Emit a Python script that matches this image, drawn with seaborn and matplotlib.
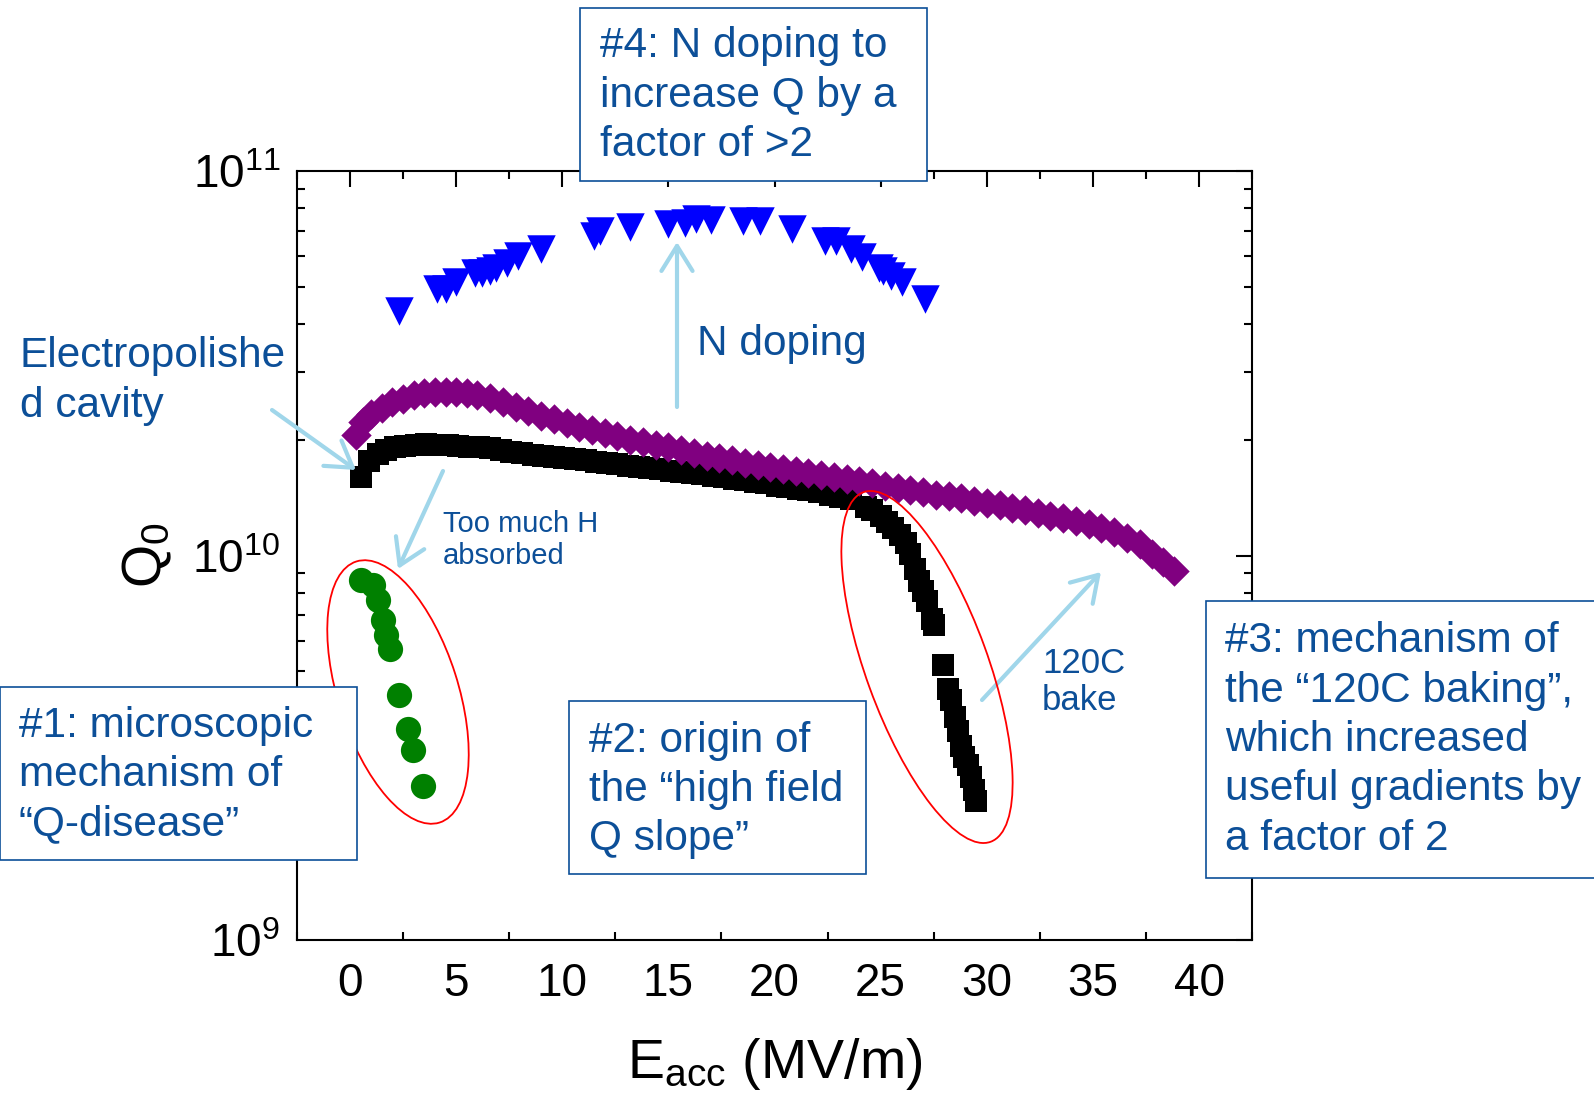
import numpy as np
import pandas as pd
import matplotlib
matplotlib.use("Agg")
import matplotlib.pyplot as plt
import seaborn as sns
from matplotlib.patches import Rectangle, Ellipse, FancyArrowPatch
from matplotlib.transforms import Affine2D

# ---- data (E_acc in MV/m, Q0) ----
nitrogen_x = [2.3, 4.1, 4.5, 5.0, 5.9, 6.2, 6.6, 6.9, 7.4, 7.9, 9.0, 11.5, 11.8,
              13.2, 15.0, 15.8, 16.3, 17.0, 18.5, 19.3, 20.8, 22.4, 22.9, 23.6,
              24.1, 24.9, 25.1, 25.5, 26.0, 27.1]
nitrogen_q = [4.33e10, 4.92e10, 4.92e10, 5.15e10, 5.44e10, 5.44e10, 5.50e10, 5.61e10,
              5.78e10, 6.02e10, 6.26e10, 6.76e10, 6.99e10, 7.13e10, 7.30e10, 7.31e10,
              7.49e10, 7.46e10, 7.42e10, 7.42e10, 7.08e10, 6.58e10, 6.56e10, 6.26e10,
              5.96e10, 5.61e10, 5.50e10, 5.33e10, 5.13e10, 4.64e10]

baked_x = [0.3, 0.6, 1.0, 1.5, 2.0, 2.5, 3.0, 3.5, 4.0, 4.5, 5.0, 5.5, 6.0, 6.6, 7.2,
           7.8, 8.4, 9.0, 9.6, 10.2, 10.8, 11.4, 12.0, 12.6, 13.2, 13.8, 14.4, 15.0,
           15.6, 16.2, 16.8, 17.4, 18.0, 18.6, 19.2, 19.8, 20.4, 21.0, 21.6, 22.2,
           22.8, 23.4, 24.0, 24.6, 25.2, 25.8, 26.4, 27.0, 27.6, 28.2, 28.8, 29.4,
           30.0, 30.6, 31.2, 31.8, 32.4, 33.0, 33.6, 34.2, 34.8, 35.4, 36.0, 36.6,
           37.2, 37.8, 38.3, 38.8]
baked_q = [2.06e10, 2.23e10, 2.33e10, 2.42e10, 2.50e10, 2.56e10, 2.61e10, 2.64e10,
           2.66e10, 2.66e10, 2.66e10, 2.64e10, 2.62e10, 2.57e10, 2.50e10, 2.43e10,
           2.37e10, 2.31e10, 2.26e10, 2.21e10, 2.16e10, 2.12e10, 2.08e10, 2.04e10,
           2.00e10, 1.97e10, 1.94e10, 1.91e10, 1.88e10, 1.85e10, 1.82e10, 1.79e10,
           1.77e10, 1.74e10, 1.72e10, 1.70e10, 1.68e10, 1.66e10, 1.64e10, 1.62e10,
           1.60e10, 1.58e10, 1.56e10, 1.54e10, 1.52e10, 1.50e10, 1.48e10, 1.46e10,
           1.44e10, 1.43e10, 1.41e10, 1.39e10, 1.37e10, 1.35e10, 1.33e10, 1.31e10,
           1.29e10, 1.27e10, 1.25e10, 1.23e10, 1.21e10, 1.18e10, 1.15e10, 1.11e10,
           1.07e10, 1.01e10, 0.96e10, 0.91e10]

ep_x = [0.5, 0.9, 1.3, 1.7, 2.1, 2.6, 3.1, 3.6, 4.1, 4.6, 5.1, 5.6, 6.1, 6.6, 7.1,
        7.6, 8.1, 8.6, 9.1, 9.6, 10.1, 10.6, 11.1, 11.6, 12.1, 12.6, 13.1, 13.6,
        14.1, 14.6, 15.1, 15.6, 16.1, 16.6, 17.1, 17.6, 18.1, 18.6, 19.1, 19.6,
        20.1, 20.6, 21.1, 21.6, 22.1, 22.6, 23.1, 23.6, 24.3, 24.6, 25.0, 25.3,
        25.6, 25.9, 26.2, 26.4, 26.6, 26.8, 27.0, 27.2, 27.4, 27.5, 27.95, 28.15,
        28.3, 28.5, 28.65, 28.8, 28.95, 29.1, 29.25, 29.4, 29.5]
ep_q = [1.60e10, 1.76e10, 1.84e10, 1.88e10, 1.91e10, 1.93e10, 1.94e10, 1.945e10,
        1.94e10, 1.935e10, 1.93e10, 1.92e10, 1.91e10, 1.90e10, 1.88e10, 1.86e10,
        1.85e10, 1.83e10, 1.82e10, 1.80e10, 1.79e10, 1.78e10, 1.77e10, 1.75e10,
        1.74e10, 1.73e10, 1.71e10, 1.70e10, 1.69e10, 1.68e10, 1.66e10, 1.65e10,
        1.64e10, 1.63e10, 1.61e10, 1.60e10, 1.58e10, 1.57e10, 1.55e10, 1.54e10,
        1.52e10, 1.51e10, 1.49e10, 1.48e10, 1.46e10, 1.44e10, 1.42e10, 1.40e10,
        1.34e10, 1.31e10, 1.27e10, 1.22e10, 1.18e10, 1.13e10, 1.08e10, 1.01e10,
        9.2e9, 8.6e9, 8.1e9, 7.6e9, 6.85e9, 6.6e9, 5.2e9, 4.5e9, 4.2e9, 3.8e9,
        3.5e9, 3.2e9, 3.0e9, 2.85e9, 2.65e9, 2.45e9, 2.3e9]

qdisease_x = [0.52, 1.06, 1.30, 1.54, 1.70, 1.90, 2.32, 2.71, 2.95, 3.42]
qdisease_q = [8.63e9, 8.38e9, 7.65e9, 6.79e9, 6.20e9, 5.70e9, 4.35e9, 3.54e9, 3.12e9, 2.51e9]

x_ticks = [0, 5, 10, 15, 20, 25, 30, 35, 40]
y_ticks = [1e9, 1e10, 1e11]
y_tick_labels = [r'$\mathregular{10^{9}}$', r'$\mathregular{10^{10}}$', r'$\mathregular{10^{11}}$']

# ---- style ----
sns.set_theme(style='white')
plt.rcParams['font.family'] = ['Liberation Sans', 'DejaVu Sans']
plt.rcParams['mathtext.fontset'] = 'custom'
plt.rcParams['mathtext.rm'] = 'Liberation Sans'
plt.rcParams['mathtext.it'] = 'Liberation Sans:italic'
plt.rcParams['mathtext.bf'] = 'Liberation Sans:bold'

W, H = 1594, 1101
fig = plt.figure(figsize=(W / 100, H / 100), dpi=100)
fig.patch.set_facecolor('white')
ax = fig.add_axes([0.1863, 0.1462, 0.5992, 0.6985])

# pixel coordinates (origin top-left) for annotations
px = Affine2D().scale(1 / W, -1 / H).translate(0, 1) + fig.transFigure

sns.scatterplot(x=ep_x, y=ep_q, marker='s', s=250, color='black', linewidth=0, ax=ax, zorder=3)
sns.scatterplot(x=baked_x, y=baked_q, marker='D', s=240, color='#800080', linewidth=0, ax=ax, zorder=4)
sns.scatterplot(x=nitrogen_x, y=nitrogen_q, marker='v', s=420, color='#0000ff', linewidth=0, ax=ax, zorder=3)
sns.scatterplot(x=qdisease_x, y=qdisease_q, marker='o', s=330, color='#008000', linewidth=0, ax=ax, zorder=3)

ax.set_yscale('log')
ax.set_xlim(-2.5, 42.5)
ax.set_ylim(1e9, 1e11)
ax.set_xticks(x_ticks)
ax.set_xticks(np.arange(-2.5, 42.6, 5), minor=True)
ax.set_yticks(y_ticks)
ax.set_yticklabels(y_tick_labels)
ax.tick_params(which='major', direction='in', length=11.5, width=1.5, top=True, right=True,
               labelsize=33, pad=12, color='black', labelcolor='black')
ax.tick_params(which='minor', direction='in', length=5.5, width=1.5, top=True, right=True,
               left=True, bottom=True, color='black')
ax.tick_params(axis='x', which='major', pad=16)
for sp in ax.spines.values():
    sp.set_linewidth(1.5)
    sp.set_color('black')

ax.set_xlabel(r'E$_\mathregular{acc}$ (MV/m)', fontsize=40, color='black')
ax.set_ylabel(r'Q$_\mathregular{0}$', fontsize=40, color='black')
ax.xaxis.set_label_coords(0.5, -0.125)
ax.yaxis.set_label_coords(-0.129, 0.5)

blue = '#0c4f98'
light = '#a0d6ea'

# boxed statements
boxes = [
    ((580, 8), 347, 173, 600, 95.5, '#4: N doping to\nincrease Q by a\nfactor of >2'),
    ((0, 687), 357, 173, 19, 775, '#1: microscopic\nmechanism of\n\u201cQ-disease\u201d'),
    ((569, 701), 297, 173, 589, 790, '#2: origin of\nthe \u201chigh field\nQ slope\u201d'),
    ((1206, 601), 400, 277, 1225, 740,
     '#3: mechanism of\nthe \u201c120C baking\u201d,\nwhich increased\nuseful gradients by\na factor of 2'),
]
for (x0, y0), bw, bh, tx, ty, txt in boxes:
    fig.patches.append(Rectangle((x0, y0), bw, bh, transform=px, facecolor='white',
                                 edgecolor=blue, linewidth=1.2, zorder=5))
    fig.text(tx, ty, txt, transform=px, fontsize=30.5, color=blue, ha='left', va='center',
             linespacing=1.3, zorder=6)

fig.text(20, 381, 'Electropolishe\nd cavity', transform=px, fontsize=30.5, color=blue,
         ha='left', va='center', linespacing=1.3)
fig.text(697, 344, 'N doping', transform=px, fontsize=30.5, color=blue, ha='left', va='center')
fig.text(443, 540, 'Too much H\nabsorbed', transform=px, fontsize=21, color=blue,
         ha='left', va='center', linespacing=1.15)
fig.text(1042, 682, '120C\nbake', transform=px, fontsize=25, color=blue,
         ha='left', va='center', linespacing=1.15)

# arrows
arrows = [((272, 410), (356, 470)), ((677, 407), (677, 242)),
          ((443, 471), (398, 569)), ((982, 700), (1101, 572))]
for a, b in arrows:
    fig.patches.append(FancyArrowPatch(a, b, transform=px, arrowstyle='->,head_length=0.45,head_width=0.28',
                                       mutation_scale=40, color=light, linewidth=3, shrinkA=0, shrinkB=0,
                                       zorder=4))

# red ellipses
fig.patches.append(Ellipse((398, 692), 120, 274, angle=-17.7, transform=px, fill=False,
                           edgecolor='red', linewidth=1.3, zorder=4))
fig.patches.append(Ellipse((927, 667), 122, 372, angle=-20.0, transform=px, fill=False,
                           edgecolor='red', linewidth=1.3, zorder=4))

fig.savefig('out.png', dpi=100, facecolor='white')
